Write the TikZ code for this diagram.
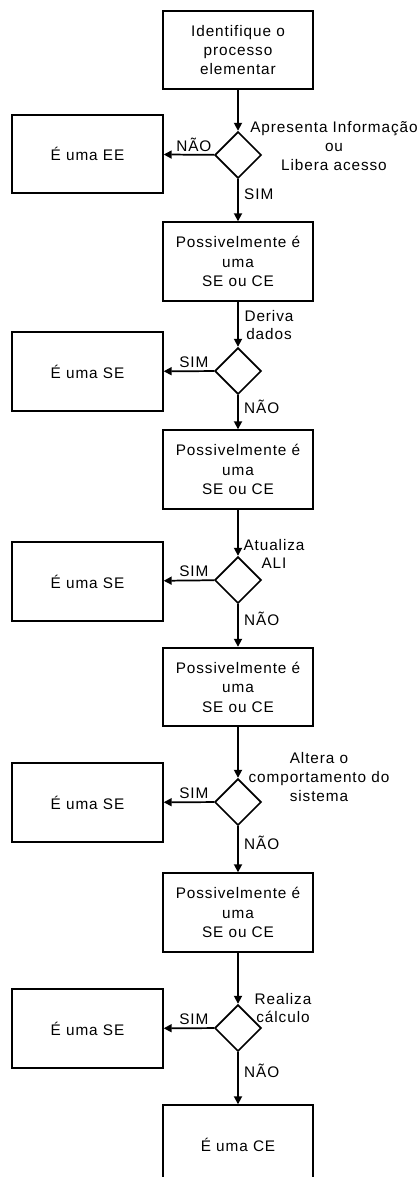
\documentclass[tikz,border=0pt]{standalone}
\usepackage{fontspec}
\setmainfont{Liberation Sans}[LetterSpace=6]
\usetikzlibrary{shapes.geometric,arrows.meta}
\tikzset{
   caixa/.style={draw, line width=1.3pt, minimum width=113pt, minimum height=59pt,
      align=center, inner sep=0pt, font=\fontsize{11.5}{14.6}\selectfont},
   decisao/.style={draw, diamond, line width=1.3pt, minimum width=35pt,
      minimum height=35pt, inner sep=0pt},
   rotulo/.style={align=center, inner sep=0pt, font=\fontsize{11.5}{14}\selectfont},
   seta/.style={line width=1.3pt, -{Triangle[length=6pt,width=6pt]}}
}
\begin{document}
\begin{tikzpicture}[x=0.75pt,y=-0.75pt]
   \clip (0,0) rectangle (418,1177);

   % coluna principal
   \node[caixa] (p1) at (238,50) {Identifique o\\processo\\elementar};
   \node[decisao] (d1) at (238,155) {};
   \node[caixa] (p2) at (238,261.5) {Possivelmente é\\uma\\SE ou CE};
   \node[decisao] (d2) at (238,371) {};
   \node[caixa] (p3) at (238,469.5) {Possivelmente é\\uma\\SE ou CE};
   \node[decisao] (d3) at (238,580) {};
   \node[caixa] (p4) at (238,687) {Possivelmente é\\uma\\SE ou CE};
   \node[decisao] (d4) at (238,802) {};
   \node[caixa] (p5) at (238,912.5) {Possivelmente é\\uma\\SE ou CE};
   \node[decisao] (d5) at (238,1028) {};
   \node[caixa] (p6) at (238,1144.5) {É uma CE};

   % caixas da esquerda
   \node[caixa] (e1) at (87.5,154) {É uma EE};
   \node[caixa] (e2) at (87.5,371.5) {É uma SE};
   \node[caixa] (e3) at (87.5,581.5) {É uma SE};
   \node[caixa] (e4) at (87.5,802.5) {É uma SE};
   \node[caixa] (e5) at (87.5,1028.5) {É uma SE};

   % perguntas
   \node[rotulo] (q1) at (334,146) {Apresenta Informação\\ou\\Libera acesso};
   \node[rotulo] (q2) at (269,325) {Deriva\\dados};
   \node[rotulo] (q3) at (274,554) {Atualiza\\ALI};
   \node[rotulo] (q4) at (319,777) {Altera o\\comportamento do\\sistema};
   \node[rotulo] (q5) at (283,1008) {Realiza\\cálculo};

   % setas
   \draw[seta] (p1) -- (d1);
   \draw[seta] (d1) -- node[rotulo, above=2pt, pos=0.4] (n1) {NÃO} (e1);
   \draw[seta] (d1) -- node[rotulo, right=4pt, pos=0.35] (s1) {SIM} (p2);
   \draw[seta] (p2) -- (d2);
   \draw[seta] (d2) -- node[rotulo, above=2pt, pos=0.4] (s2) {SIM} (e2);
   \draw[seta] (d2) -- node[rotulo, right=4pt, pos=0.35] (n2) {NÃO} (p3);
   \draw[seta] (p3) -- (d3);
   \draw[seta] (d3) -- node[rotulo, above=2pt, pos=0.4] (s3) {SIM} (e3);
   \draw[seta] (d3) -- node[rotulo, right=4pt, pos=0.35] (n3) {NÃO} (p4);
   \draw[seta] (p4) -- (d4);
   \draw[seta] (d4) -- node[rotulo, above=2pt, pos=0.4] (s4) {SIM} (e4);
   \draw[seta] (d4) -- node[rotulo, right=4pt, pos=0.35] (n4) {NÃO} (p5);
   \draw[seta] (p5) -- (d5);
   \draw[seta] (d5) -- node[rotulo, above=2pt, pos=0.4] (s5) {SIM} (e5);
   \draw[seta] (d5) -- node[rotulo, right=4pt, pos=0.35] (n5) {NÃO} (p6);

 \end{tikzpicture}
\end{document}
